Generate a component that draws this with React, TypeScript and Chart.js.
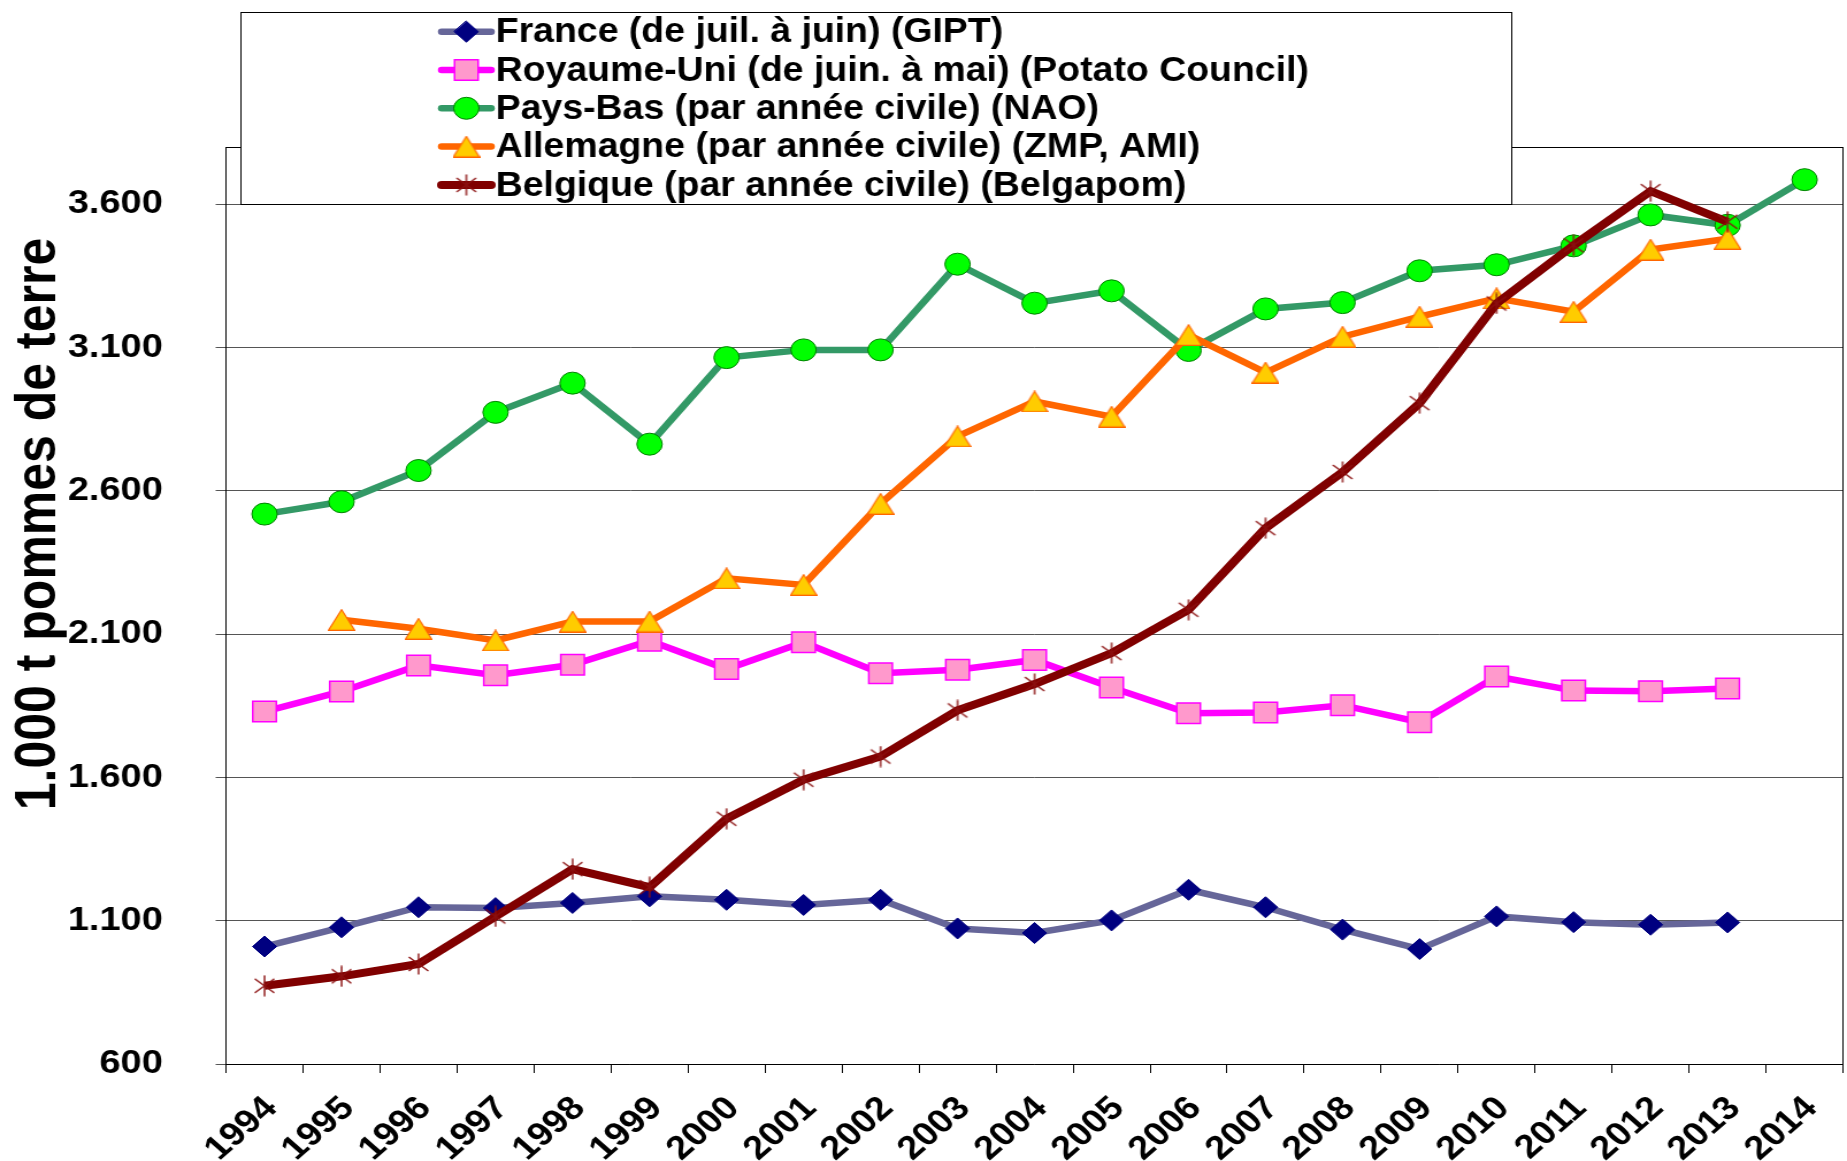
import { useEffect, useRef } from 'react';
import { Chart, registerables } from 'chart.js';

Chart.register(...registerables);

// ---------- data ----------
const years = ['1994', '1995', '1996', '1997', '1998', '1999', '2000', '2001', '2002', '2003', '2004', '2005', '2006', '2007', '2008', '2009', '2010', '2011', '2012', '2013', '2014'];

const france = [1010, 1077, 1147, 1144, 1162, 1185, 1173, 1155, 1173, 1073, 1057, 1101, 1208, 1147, 1069, 1001, 1115, 1095, 1086, 1094, null];
const royaumeUni = [1830, 1900, 1991, 1957, 1993, 2077, 1978, 2072, 1964, 1976, 2010, 1914, 1824, 1827, 1852, 1793, 1952, 1903, 1901, 1910, null];
const paysBas = [2519, 2562, 2671, 2874, 2976, 2763, 3065, 3092, 3092, 3391, 3255, 3298, 3090, 3235, 3257, 3368, 3389, 3455, 3563, 3527, 3686];
const allemagne = [null, 2150, 2119, 2078, 2144, 2144, 2295, 2272, 2555, 2790, 2912, 2859, 3144, 3013, 3138, 3208, 3272, 3225, 3442, 3480, null];
const belgique = [873, 906, 949, 1115, 1280, 1217, 1456, 1592, 1673, 1834, 1926, 2034, 2185, 2470, 2666, 2906, 3254, 3457, 3646, 3539, null];

const seriesNames = [
  'France (de juil. à juin) (GIPT)',
  'Royaume-Uni (de juin. à mai) (Potato Council)',
  'Pays-Bas (par année civile) (NAO)',
  'Allemagne (par année civile) (ZMP, AMI)',
  'Belgique (par année civile) (Belgapom)',
];

const yTicks = [600, 1100, 1600, 2100, 2600, 3100, 3600];
const yMin = 600;
const yMax = 3800;
const yTitle = '1.000 t pommes de terre';

// ---------- layout ----------
const FULL_W = 1847;
const H = 1161;
const SX = 1.15; // horizontal stretch of the reference rendering
const W = Math.round(FULL_W / SX);
const FONT = '"Liberation Sans", Arial, Helvetica, sans-serif';

const fmt = (v: number) => String(v).replace(/\B(?=(\d{3})+(?!\d))/g, '.');

function makeTriangle(): HTMLCanvasElement {
  const c = document.createElement('canvas');
  c.width = 24;
  c.height = 22;
  const g = c.getContext('2d')!;
  g.beginPath();
  g.moveTo(12, 0.8);
  g.lineTo(23.3, 21.3);
  g.lineTo(0.7, 21.3);
  g.closePath();
  g.fillStyle = '#FFCC00';
  g.fill();
  g.strokeStyle = '#FF6600';
  g.lineWidth = 1.2;
  g.stroke();
  return c;
}

function makeStar(): HTMLCanvasElement {
  const c = document.createElement('canvas');
  c.width = 22;
  c.height = 22;
  const g = c.getContext('2d')!;
  g.strokeStyle = '#8B1010';
  g.lineWidth = 1.4;
  g.beginPath();
  g.moveTo(11, 0.5);
  g.lineTo(11, 21.5);
  g.moveTo(2.5, 4);
  g.lineTo(19.5, 18);
  g.moveTo(19.5, 4);
  g.lineTo(2.5, 18);
  g.stroke();
  return c;
}

function drawMarker(ctx: CanvasRenderingContext2D, ds: any, x: number, y: number) {
  const st = ds.pointStyle;
  const r = ds.pointRadius;
  ctx.save();
  if (typeof st === 'object') {
    ctx.drawImage(st, x - st.width / 2, y - st.height / 2);
    ctx.restore();
    return;
  }
  ctx.fillStyle = ds.pointBackgroundColor;
  ctx.strokeStyle = ds.pointBorderColor;
  ctx.lineWidth = ds.pointBorderWidth;
  ctx.beginPath();
  if (st === 'rectRot') {
    ctx.moveTo(x, y - r);
    ctx.lineTo(x + r, y);
    ctx.lineTo(x, y + r);
    ctx.lineTo(x - r, y);
    ctx.closePath();
  } else if (st === 'rect') {
    const s = r * Math.SQRT1_2;
    ctx.rect(x - s, y - s, 2 * s, 2 * s);
  } else {
    ctx.arc(x, y, r, 0, Math.PI * 2);
  }
  ctx.fill();
  ctx.stroke();
  ctx.restore();
}

export default function App() {
  const ref = useRef<HTMLCanvasElement | null>(null);

  useEffect(() => {
    document.body.style.margin = '0';
    const canvas = ref.current;
    if (!canvas) return;
    const tri = makeTriangle();
    const star = makeStar();

    const datasets: any[] = [
      {
        label: seriesNames[0], data: france, borderColor: '#666699', borderWidth: 6.5,
        pointStyle: 'rectRot', pointRadius: 10.5, pointHoverRadius: 10.5,
        pointBackgroundColor: '#000080', pointBorderColor: '#000080', pointBorderWidth: 1, order: 4,
      },
      {
        label: seriesNames[1], data: royaumeUni, borderColor: '#FF00FF', borderWidth: 6.5,
        pointStyle: 'rect', pointRadius: 14.5, pointHoverRadius: 14.5,
        pointBackgroundColor: '#FF99CC', pointBorderColor: '#FF00FF', pointBorderWidth: 1.5, order: 3,
      },
      {
        label: seriesNames[2], data: paysBas, borderColor: '#339966', borderWidth: 6.5,
        pointStyle: 'circle', pointRadius: 11, pointHoverRadius: 11,
        pointBackgroundColor: '#00FF00', pointBorderColor: '#008000', pointBorderWidth: 1, order: 2,
      },
      {
        label: seriesNames[3], data: allemagne, borderColor: '#FF6600', borderWidth: 6.5,
        pointStyle: tri, pointRadius: 11, pointHoverRadius: 11,
        pointBackgroundColor: '#FFCC00', pointBorderColor: '#FF6600', pointBorderWidth: 1, order: 1,
      },
      {
        label: seriesNames[4], data: belgique, borderColor: '#800000', borderWidth: 8,
        pointStyle: star, pointRadius: 11, pointHoverRadius: 11,
        pointBackgroundColor: '#800000', pointBorderColor: '#800000', pointBorderWidth: 1, order: 0,
      },
    ];

    const framePlugin = {
      id: 'frame',
      beforeDatasetsDraw(chart: any) {
        const { ctx, chartArea: a } = chart;
        ctx.save();
        ctx.strokeStyle = '#000';
        ctx.lineWidth = 1;
        ctx.beginPath();
        ctx.moveTo(a.left, Math.round(a.top) + 0.5);
        ctx.lineTo(a.right, Math.round(a.top) + 0.5);
        ctx.moveTo(Math.round(a.right) - 0.5, a.top);
        ctx.lineTo(Math.round(a.right) - 0.5, a.bottom + 9);
        ctx.stroke();
        ctx.restore();
      },
    };

    const overlayPlugin = {
      id: 'overlay',
      afterDraw(chart: any) {
        const ctx: CanvasRenderingContext2D = chart.ctx;
        // axis title
        ctx.save();
        ctx.translate(34, 524);
        ctx.rotate(-Math.PI / 2);
        ctx.font = `bold 50px ${FONT}`;
        ctx.fillStyle = '#000';
        ctx.textAlign = 'center';
        ctx.textBaseline = 'middle';
        ctx.fillText(yTitle, 0, 0);
        ctx.restore();

        // legend box
        const x1 = Math.round(240 / SX) + 0.5;
        const x2 = Math.round(1511 / SX) + 0.5;
        const y1 = 12.5;
        const y2 = 204.5;
        ctx.save();
        ctx.fillStyle = '#fff';
        ctx.fillRect(x1, y1, x2 - x1, y2 - y1);
        ctx.strokeStyle = '#000';
        ctx.lineWidth = 1;
        ctx.strokeRect(x1, y1, x2 - x1, y2 - y1);
        const lx1 = 384;
        const lx2 = 427;
        const mx = 405.5;
        const tx = 431;
        chart.data.datasets.forEach((ds: any, i: number) => {
          const y = 31.7 + i * 38.3;
          ctx.strokeStyle = ds.borderColor;
          ctx.lineWidth = ds.borderWidth;
          ctx.lineCap = 'round';
          ctx.beginPath();
          ctx.moveTo(lx1, y);
          ctx.lineTo(lx2, y);
          ctx.stroke();
          drawMarker(ctx, ds, mx, y);
          ctx.save();
          ctx.translate(tx, y + 1);
          ctx.scale(0.93, 1);
          ctx.fillStyle = '#000';
          ctx.font = `bold 35px ${FONT}`;
          ctx.textAlign = 'left';
          ctx.textBaseline = 'middle';
          ctx.fillText(ds.label, 0, 0);
          ctx.restore();
        });
        ctx.restore();
      },
    };

    const chart = new Chart(canvas, {
      type: 'line',
      data: { labels: years, datasets },
      options: {
        responsive: false,
        maintainAspectRatio: false,
        animation: false,
        devicePixelRatio: 1,
        layout: { autoPadding: false, padding: { top: 147, right: W - 1843 / SX, left: 0, bottom: 0 } },
        elements: { line: { tension: 0 } },
        plugins: { legend: { display: false }, tooltip: { enabled: false }, title: { display: false } },
        scales: {
          x: {
            type: 'category',
            offset: true,
            grid: { offset: true, drawOnChartArea: false, drawTicks: true, tickLength: 9, color: '#000', lineWidth: 1 },
            border: { display: true, color: '#000', width: 1 },
            ticks: {
              autoSkip: false, maxRotation: 45, minRotation: 45, padding: 16, labelOffset: 6,
              color: '#000', font: { family: FONT, size: 33, weight: 'bold' },
            },
            afterFit: (s: any) => {
              s.height = H - 1064;
              s.paddingLeft = 0;
              s.paddingRight = 0;
            },
          },
          y: {
            min: yMin,
            max: yMax,
            afterBuildTicks: (s: any) => { s.ticks = yTicks.map((v) => ({ value: v })); },
            grid: { color: '#555', lineWidth: 1, drawTicks: true, tickLength: 9 },
            border: { display: true, color: '#000', width: 1 },
            ticks: {
              padding: 46, color: '#000', font: { family: FONT, size: 33, weight: 'bold' },
              callback: (v: any) => fmt(Number(v)),
            },
            afterFit: (s: any) => {
              s.width = 226 / SX;
              s.paddingTop = 0;
              s.paddingBottom = 0;
            },
          },
        },
      } as any,
      plugins: [framePlugin, overlayPlugin],
    });

    return () => chart.destroy();
  }, []);

  return (
    <div style={{ position: 'absolute', left: 0, top: 0, width: FULL_W, height: H, background: '#fff', overflow: 'hidden' }}>
      <canvas
        ref={ref}
        width={W}
        height={H}
        style={{ display: 'block', width: `${FULL_W}px`, height: `${H}px` }}
      />
    </div>
  );
}
